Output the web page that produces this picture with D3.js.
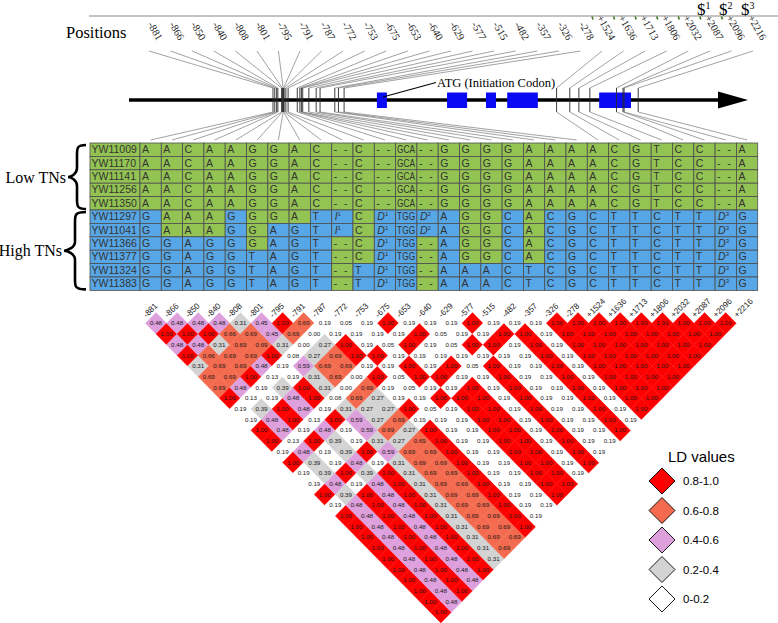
<!DOCTYPE html>
<html><head><meta charset="utf-8">
<script src="https://cdn.jsdelivr.net/npm/d3@7/dist/d3.min.js"></script>
<style>body{margin:0;background:#fff}svg{display:block}</style>
</head><body>
<svg id="chart" width="778" height="623"></svg>
<script>
// ---------------- data ----------------
const positions = ["-881","-866","-850","-840","-808","-801","-795","-791","-787","-772","-753","-675","-653","-640","-629","-577","-515","-482","-357","-326","-278","+1524","+1636","+1713","+1806","+2032","+2087","+2096","+2216"];
const positionBp = [-881,-866,-850,-840,-808,-801,-795,-791,-787,-772,-753,-675,-653,-640,-629,-577,-515,-482,-357,-326,-278,1524,1636,1713,1806,2032,2087,2096,2216];
const exonsBp = [[0,85],[595,765],[925,1010],[1105,1365],[1885,2155]];
const geneRangeBp = [-881, 2216];
const dollarLabels = ["1","2","3"];
const samples = ["YW11009","YW11170","YW11141","YW11256","YW11350","YW11297","YW11041","YW11366","YW11377","YW11324","YW11383"];
const groupLabels = ["Low TNs","High TNs"];
const groupRows = [[0,4],[5,10]];
const lowRow = ["A","A","C","A","A","G","G","A","C","--","C","--","GCA","--","G","G","G","G","A","A","A","A","C","G","T","C","C","--","A"];
const genotypes = [
  lowRow, lowRow, lowRow, lowRow, lowRow,
  ["G","A","A","A","G","G","G","A","T","I^1","C","D^1","TGG","D^2","A","G","G","C","A","C","G","C","T","T","C","T","T","D^3","G"],
  ["G","A","A","A","G","G","A","G","T","I^1","C","D^1","TGG","D^2","A","G","G","C","A","C","G","C","T","T","C","T","T","D^3","G"],
  ["G","G","A","G","G","G","A","G","T","--","C","D^1","TGG","--","A","G","G","C","A","C","G","C","T","T","C","T","T","D^3","G"],
  ["G","G","A","G","G","T","A","G","T","--","C","D^1","TGG","--","A","G","G","C","A","C","G","C","T","T","C","T","T","D^3","G"],
  ["G","G","A","G","G","T","A","G","T","--","T","D^1","TGG","--","A","A","A","C","T","C","G","C","T","T","C","T","T","D^3","G"],
  ["G","G","A","G","G","T","A","G","T","--","T","D^1","TGG","--","A","A","A","C","T","C","G","C","T","T","C","T","T","D^3","G"]
];
// g = low-type (green) cell, b = high-type (blue) cell
const shading = [
  "ggggggggggggggggggggggggggggg",
  "ggggggggggggggggggggggggggggg",
  "ggggggggggggggggggggggggggggg",
  "ggggggggggggggggggggggggggggg",
  "ggggggggggggggggggggggggggggg",
  "bgggbgggbbgbbbbggbgbbbbbbbbbb",
  "bgggbgbbbbgbbbbggbgbbbbbbbbbb",
  "bbbbbgbbbggbbgbggbgbbbbbbbbbb",
  "bbbbbbbbbggbbgbggbgbbbbbbbbbb",
  "bbbbbbbbbgbbbgbbbbbbbbbbbbbbb",
  "bbbbbbbbbgbbbgbbbbbbbbbbbbbbb"
];
// LD (r^2) values: row i lists pairs (positions[i], positions[j]) for j > i
const ldRows = [
  [0.48,1.00,0.48,1.00,0.31,0.69,0.69,1.00,0.19,0.19,1.00,1.00,0.19,1.00,0.19,0.19,1.00,0.19,1.00,1.00,1.00,1.00,1.00,1.00,1.00,1.00,1.00,1.00],
  [0.48,1.00,0.48,0.66,0.69,0.69,0.48,0.13,0.39,0.48,0.48,0.13,0.48,0.39,0.39,0.48,0.39,0.48,0.48,0.48,0.48,0.48,0.48,0.48,0.48,0.48,0.48],
  [0.48,1.00,0.31,0.69,0.69,1.00,0.19,0.19,1.00,1.00,0.19,1.00,0.19,0.19,1.00,0.19,1.00,1.00,1.00,1.00,1.00,1.00,1.00,1.00,1.00,1.00],
  [0.48,0.66,0.69,0.69,0.48,0.13,0.39,0.48,0.48,0.13,0.48,0.39,0.39,0.48,0.39,0.48,0.48,0.48,0.48,0.48,0.48,0.48,0.48,0.48,0.48],
  [0.31,0.69,0.69,1.00,0.19,0.19,1.00,1.00,0.19,1.00,0.19,0.19,1.00,0.19,1.00,1.00,1.00,1.00,1.00,1.00,1.00,1.00,1.00,1.00],
  [0.45,0.45,0.31,0.08,0.59,0.31,0.31,0.08,0.31,0.59,0.59,0.31,0.59,0.31,0.31,0.31,0.31,0.31,0.31,0.31,0.31,0.31,0.31],
  [1.00,0.69,0.00,0.27,0.69,0.69,0.00,0.69,0.27,0.27,0.69,0.27,0.69,0.69,0.69,0.69,0.69,0.69,0.69,0.69,0.69,0.69],
  [0.69,0.00,0.27,0.69,0.69,0.00,0.69,0.27,0.27,0.69,0.27,0.69,0.69,0.69,0.69,0.69,0.69,0.69,0.69,0.69,0.69],
  [0.19,0.19,1.00,1.00,0.19,1.00,0.19,0.19,1.00,0.19,1.00,1.00,1.00,1.00,1.00,1.00,1.00,1.00,1.00,1.00],
  [0.05,0.19,0.19,1.00,0.19,0.05,0.05,0.19,0.05,0.19,0.19,0.19,0.19,0.19,0.19,0.19,0.19,0.19,0.19],
  [0.19,0.19,0.05,0.19,1.00,1.00,0.19,1.00,0.19,0.19,0.19,0.19,0.19,0.19,0.19,0.19,0.19,0.19],
  [1.00,0.19,1.00,0.19,0.19,1.00,0.19,1.00,1.00,1.00,1.00,1.00,1.00,1.00,1.00,1.00,1.00],
  [0.19,1.00,0.19,0.19,1.00,0.19,1.00,1.00,1.00,1.00,1.00,1.00,1.00,1.00,1.00,1.00],
  [0.19,0.05,0.05,0.19,0.05,0.19,0.19,0.19,0.19,0.19,0.19,0.19,0.19,0.19,0.19],
  [0.19,0.19,1.00,0.19,1.00,1.00,1.00,1.00,1.00,1.00,1.00,1.00,1.00,1.00],
  [1.00,0.19,1.00,0.19,0.19,0.19,0.19,0.19,0.19,0.19,0.19,0.19,0.19],
  [0.19,1.00,0.19,0.19,0.19,0.19,0.19,0.19,0.19,0.19,0.19,0.19],
  [0.19,1.00,1.00,1.00,1.00,1.00,1.00,1.00,1.00,1.00,1.00],
  [0.19,0.19,0.19,0.19,0.19,0.19,0.19,0.19,0.19,0.19],
  [1.00,1.00,1.00,1.00,1.00,1.00,1.00,1.00,1.00],
  [1.00,1.00,1.00,1.00,1.00,1.00,1.00,1.00],
  [1.00,1.00,1.00,1.00,1.00,1.00,1.00],
  [1.00,1.00,1.00,1.00,1.00,1.00],
  [1.00,1.00,1.00,1.00,1.00],
  [1.00,1.00,1.00,1.00],
  [1.00,1.00,1.00],
  [1.00,1.00],
  [1.00]
];
const legendLabels = ["0.8-1.0","0.6-0.8","0.4-0.6","0.2-0.4","0-0.2"];
const legendValues = [0.9,0.7,0.5,0.3,0.1];
const ldThresholds = [0.2,0.4,0.6,0.8];

// ---------------- styles ----------------
const ldColors = ["#ffffff","#d3d3d3","#dda0dd","#f36a4e","#ff0000"];
const GREEN = "#93c352", BLUE = "#57a6e6";
const SERIF = "Liberation Serif";
const SANS = "Liberation Sans";

const svg = d3.select("#chart");

// ---------------- scales ----------------
const geneX = d3.scaleLinear().domain(geneRangeBp).range([273, 638.2]);
const labelX = d3.scalePoint().domain(positions).range([152, 756]);
const colX = d3.scaleBand().domain(positions).range([140, 757.7]);
const rowY = d3.scaleBand().domain(samples).range([143, 290.4]);
const ldX = d3.scalePoint().domain(positions).range([145.45, 736.25]);
const ldY = d3.scaleLinear().domain([1, 28]).range([323.3, 612.2]);
const ldColor = d3.scaleThreshold().domain(ldThresholds).range(ldColors);

// ---------------- header ----------------
svg.append("line").attr("x1", 89).attr("x2", 778).attr("y1", 16).attr("y2", 16)
  .attr("stroke", "#8a8a8a").attr("stroke-width", 1.2);
svg.append("text").attr("x", 66).attr("y", 38).style("font-family", SERIF)
  .attr("font-size", 16.5).text("Positions");

svg.append("g").selectAll("text").data(positions).join("text")
  .attr("transform", d => `translate(${labelX(d) + 5},41) rotate(60)`)
  .attr("text-anchor", "end").style("font-family", SERIF).attr("font-size", 10.5)
  .attr("fill", "#222").text(d => d);

svg.append("g").selectAll("line").data(positions.slice(21, 28)).join("line")
  .attr("x1", d => labelX(d) - 13).attr("x2", d => labelX(d) - 12)
  .attr("y1", 16.5).attr("y2", 19.5).attr("stroke", "#3d7a20").attr("stroke-width", 1.6);

const dollar = svg.append("g").style("font-family", SERIF);
dollarLabels.forEach((s, k) => {
  const t = dollar.append("text").attr("x", 697 + k * 22).attr("y", 15).attr("font-size", 17);
  t.append("tspan").text("$");
  t.append("tspan").attr("font-size", 10).attr("dy", -6).text(s);
});

// upper connector lines: label -> gene tick
svg.append("g").selectAll("line").data(positions).join("line")
  .attr("x1", d => labelX(d) - 3).attr("y1", 51)
  .attr("x2", (d, i) => geneX(positionBp[i])).attr("y2", 88)
  .attr("stroke", "#7a7a7a").attr("stroke-width", 0.7);

// gene
svg.append("line").attr("x1", 129).attr("x2", 722).attr("y1", 100).attr("y2", 100)
  .attr("stroke", "#000").attr("stroke-width", 3.5);
svg.append("path").attr("d", "M718,91.5 L748,100 L718,108.5 Z").attr("fill", "#000");
svg.append("g").selectAll("rect").data(exonsBp).join("rect")
  .attr("x", d => geneX(d[0])).attr("width", d => geneX(d[1]) - geneX(d[0]))
  .attr("y", 92.5).attr("height", 15.5).attr("fill", "#0a0af5");
svg.append("g").selectAll("line").data(positionBp).join("line")
  .attr("x1", d => geneX(d)).attr("x2", d => geneX(d)).attr("y1", 88).attr("y2", 112)
  .attr("stroke", "#2a2a2a").attr("stroke-width", 0.9);
svg.append("line").attr("x1", 436).attr("y1", 82.5).attr("x2", geneX(exonsBp[0][0]) + 6).attr("y2", 97)
  .attr("stroke", "#000").attr("stroke-width", 1.1);
svg.append("text").attr("x", 437).attr("y", 87).style("font-family", SERIF).attr("font-size", 12.5)
  .text("ATG (Initiation Codon)");

// lower connector lines: gene tick -> table column
svg.append("g").selectAll("line").data(positions).join("line")
  .attr("x1", (d, i) => geneX(positionBp[i])).attr("y1", 112)
  .attr("x2", d => colX(d) + colX.bandwidth() / 2).attr("y2", 140)
  .attr("stroke", "#7a7a7a").attr("stroke-width", 0.7);

// ---------------- genotype table ----------------
const table = svg.append("g");
const rowsG = table.selectAll("g.row").data(samples).join("g").attr("class", "row")
  .attr("transform", d => `translate(0,${rowY(d)})`);
rowsG.append("rect").attr("x", 90).attr("width", 50).attr("height", rowY.bandwidth())
  .attr("fill", (d, r) => r < 5 ? GREEN : BLUE).attr("stroke", "#4d4d4d").attr("stroke-width", 0.8);
rowsG.append("text").attr("x", 91.5).attr("y", rowY.bandwidth() / 2 + 3.6)
  .style("font-family", SANS).attr("font-size", 10.5).attr("fill", "#333").text(d => d);

rowsG.each(function (name, r) {
  const g = d3.select(this);
  const cells = g.selectAll("g.cell").data(genotypes[r].map((v, c) => ({ v, c, s: shading[r][c] })))
    .join("g").attr("class", "cell").attr("transform", d => `translate(${colX(positions[d.c])},0)`);
  cells.append("rect").attr("width", colX.bandwidth()).attr("height", rowY.bandwidth())
    .attr("fill", d => d.s === "g" ? GREEN : BLUE).attr("stroke", "#4d4d4d").attr("stroke-width", 0.8);
  cells.each(function (d) {
    const t = d3.select(this).append("text").attr("x", 2).attr("y", rowY.bandwidth() / 2 + 3.6)
      .style("font-family", SANS).attr("font-size", 10.5).attr("fill", "#333");
    if (d.v.includes("^")) {
      const [b, sup] = d.v.split("^");
      t.append("tspan").attr("font-style", "italic").attr("dx", 1).text(b);
      t.append("tspan").attr("font-size", 6).attr("dy", -4).text(sup);
    } else if (d.v === "--") {
      t.attr("letter-spacing", 2).text("- -");
    } else if (d.v.length > 2) {
      t.attr("x", 1.5).attr("textLength", 18).attr("lengthAdjust", "spacingAndGlyphs").text(d.v);
    } else {
      t.text(d.v);
    }
  });
});

// braces + group labels
function bracePath(xt, xr, y0, y1) {
  const xs = xt + (xr - xt) * 0.5, ym = (y0 + y1) / 2;
  return `M${xr},${y0} C${xs},${y0} ${xs},${y0 + 3} ${xs},${y0 + 10} L${xs},${ym - 9} ` +
    `C${xs},${ym - 3} ${xt + 3},${ym} ${xt},${ym} C${xt + 3},${ym} ${xs},${ym + 3} ${xs},${ym + 9} ` +
    `L${xs},${y1 - 10} C${xs},${y1 - 3} ${xs},${y1} ${xr},${y1}`;
}
groupRows.forEach((gr, k) => {
  const y0 = rowY(samples[gr[0]]) + 2, y1 = rowY(samples[gr[1]]) + rowY.bandwidth() - 1;
  const xt = k === 0 ? 68 : 64;
  svg.append("path").attr("d", bracePath(xt, 86, y0, y1)).attr("fill", "none")
    .attr("stroke", "#000").attr("stroke-width", 2.6);
  svg.append("text").attr("x", xt - 2).attr("y", (y0 + y1) / 2 + 5.5).attr("text-anchor", "end")
    .style("font-family", SERIF).attr("font-size", 16).text(groupLabels[k]);
});

// ---------------- LD triangle ----------------
const hw = ldX.step() / 2, hh = ldY(2) - ldY(1);
const ldCells = [];
ldRows.forEach((row, i) => row.forEach((v, k) => ldCells.push({ i, j: i + k + 1, v })));
const ldG = svg.append("g");
const cellG = ldG.selectAll("g").data(ldCells).join("g")
  .attr("transform", d => `translate(${(ldX(positions[d.i]) + ldX(positions[d.j])) / 2},${ldY(d.j - d.i)})`);
cellG.append("path").attr("d", `M0,${-hh}L${hw},0L0,${hh}L${-hw},0Z`)
  .attr("fill", d => ldColor(d.v)).attr("stroke", d => ldColor(d.v)).attr("stroke-width", 0.4);
cellG.append("text").attr("text-anchor", "middle").attr("dy", "0.35em")
  .style("font-family", SANS).attr("font-size", 6.2).attr("fill", "#1a1a1a")
  .text(d => d3.format(".2f")(d.v));

svg.append("g").selectAll("text").data(positions).join("text")
  .attr("transform", d => `translate(${ldX(d) + 1},318) rotate(-45)`)
  .style("font-family", SANS).attr("font-size", 8.2).attr("fill", "#222").text(d => d);

// ---------------- legend ----------------
const leg = svg.append("g");
leg.append("text").attr("x", 668).attr("y", 462).style("font-family", SANS).attr("font-size", 15).text("LD values");
const li = leg.selectAll("g.li").data(legendLabels).join("g").attr("class", "li")
  .attr("transform", (d, k) => `translate(662,${481 + k * 29.5})`);
li.append("path").attr("d", "M0,-13L13,0L0,13L-13,0Z")
  .attr("fill", (d, k) => ldColor(legendValues[k])).attr("stroke", "#000").attr("stroke-width", 0.9);
li.append("text").attr("x", 21).attr("dy", "0.35em").style("font-family", SANS).attr("font-size", 11.5).text(d => d);
</script>
</body></html>
